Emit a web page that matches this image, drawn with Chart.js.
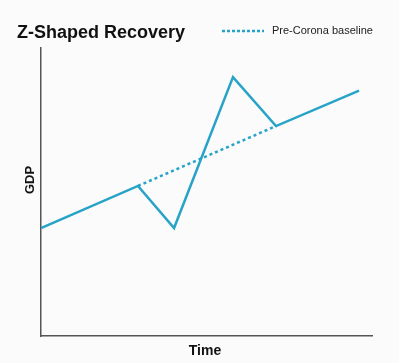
<!DOCTYPE html>
<html>
<head>
<meta charset="utf-8">
<script src="https://cdn.jsdelivr.net/npm/chart.js@4/dist/chart.umd.min.js"></script>
<style>
html,body{margin:0;padding:0;background:#fbfbfb;}
#wrap{position:relative;width:399px;height:363px;}
</style>
</head>
<body>
<div id="wrap"><canvas id="c" width="399" height="363"></canvas></div>
<script>
// Data (time in arbitrary units 0..100, GDP index 0..100)
const recoveryTime = [0, 29.3, 40.2, 58.0, 71.0, 96.1];
const recoveryGdp  = [37.5, 52.1, 37.5, 89.9, 72.9, 85.2];
const baselineTime = [29.3, 71.0];
const baselineGdp  = [52.1, 72.9];
const chartTitle = 'Z-Shaped Recovery';
const legendLabel = 'Pre-Corona baseline';
const xTitle = 'Time';
const yTitle = 'GDP';

const lineColor = '#27a3c8';
const axisColor = '#555555';
const FONT = '"Liberation Sans", Arial, sans-serif';

const toPts = (xs, ys) => xs.map((x, i) => ({x: x, y: ys[i]}));

const headerPlugin = {
  id: 'header',
  afterDraw(chart) {
    const ctx = chart.ctx;
    ctx.save();
    ctx.fillStyle = '#111111';
    ctx.font = 'bold 18px ' + FONT;
    ctx.textBaseline = 'alphabetic';
    ctx.textAlign = 'left';
    ctx.fillText(chartTitle, 17, 37.5);
    // legend sample
    ctx.strokeStyle = lineColor;
    ctx.lineWidth = 2.5;
    ctx.setLineDash([3, 2]);
    ctx.beginPath();
    ctx.moveTo(222, 31);
    ctx.lineTo(264, 31);
    ctx.stroke();
    ctx.setLineDash([]);
    ctx.fillStyle = '#222222';
    ctx.font = '11px ' + FONT;
    ctx.textBaseline = 'middle';
    ctx.fillText(legendLabel, 272, 31);
    // axis titles
    ctx.fillStyle = '#111111';
    ctx.font = 'bold 14px ' + FONT;
    ctx.textAlign = 'center';
    ctx.fillText(xTitle, 205, 351);
    ctx.translate(30.5, 180);
    ctx.rotate(-Math.PI / 2);
    ctx.font = 'bold 13px ' + FONT;
    ctx.fillText(yTitle, 0, 0);
    ctx.restore();
  }
};

new Chart(document.getElementById('c'), {
  type: 'scatter',
  data: {
    datasets: [
      {
        label: legendLabel,
        data: toPts(baselineTime, baselineGdp),
        showLine: true,
        borderColor: lineColor,
        borderWidth: 2.5,
        borderDash: [3, 3],
        pointRadius: 0,
        fill: false
      },
      {
        label: 'GDP',
        data: toPts(recoveryTime, recoveryGdp),
        showLine: true,
        borderColor: lineColor,
        borderWidth: 2.5,
        pointRadius: 0,
        fill: false,
        tension: 0
      }
    ]
  },
  options: {
    responsive: false,
    animation: false,
    layout: {padding: {top: 48, right: 27, left: 0, bottom: 0}},
    plugins: {
      legend: {display: false},
      title: {display: false},
      tooltip: {enabled: false}
    },
    scales: {
      x: {
        type: 'linear',
        min: 0, max: 100,
        ticks: {display: false},
        grid: {display: false, drawTicks: false},
        border: {display: true, color: axisColor, width: 1.5},
        title: {display: false, text: xTitle},
        afterFit(s) { s.height = 27; }
      },
      y: {
        type: 'linear',
        min: 0, max: 100,
        ticks: {display: false},
        grid: {display: false, drawTicks: false},
        border: {display: true, color: axisColor, width: 1.5},
        title: {display: false, text: yTitle},
        afterFit(s) { s.width = 41; }
      }
    }
  },
  plugins: [headerPlugin]
});
</script>
</body>
</html>
